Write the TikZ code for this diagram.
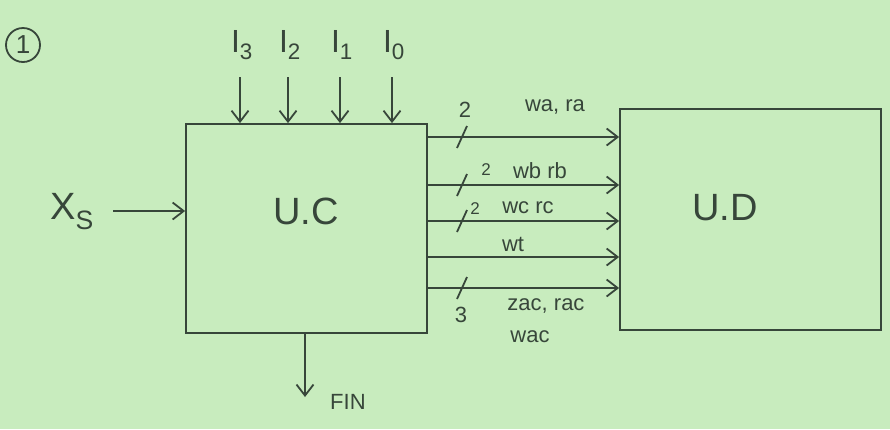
\documentclass[tikz,border=0pt]{standalone}
\usepackage{fontspec}
\setmainfont{Liberation Sans}
\usetikzlibrary{arrows.meta,calc}
\definecolor{paper}{RGB}{200,236,190}
\definecolor{ink}{RGB}{55,70,58}
\begin{document}
\begin{tikzpicture}[x=1pt,y=-1pt,
  ink/.style={draw=ink,line width=1.8pt},
  arr/.style={ink,-{Straight Barb[length=11pt,width=17pt]}},
  box/.style={ink,rectangle,inner sep=0pt},
  lab/.style={text=ink,inner sep=0pt,font=\fontsize{32}{34}\selectfont},
  small/.style={text=ink,inner sep=0pt,font=\fontsize{22}{24}\selectfont},
  big/.style={text=ink,inner sep=0pt,font=\fontsize{38}{40}\selectfont}]
\fill[paper] (0,0) rectangle (890,429);
\useasboundingbox (0,0) rectangle (890,429);
% circled number
\node[text=ink,font=\fontsize{26}{28}\selectfont,draw=ink,line width=1.8pt,circle,minimum size=34pt,inner sep=0pt] (num) at (23,45) {1};
% boxes
\node[box,minimum width=241pt,minimum height=209pt] (uc) at (306.5,228.5) {};
\node[box,minimum width=261pt,minimum height=221pt] (ud) at (750.5,219.5) {};
\node[big] (uct) at (306,211) {U.C};
\node[big] (udt) at (725,208) {U.D};
% inputs
\node[lab] (i3) at (242,45) {I\textsubscript{3}};
\node[lab] (i2) at (290,45) {I\textsubscript{2}};
\node[lab] (i1) at (342,45) {I\textsubscript{1}};
\node[lab] (i0) at (394,45) {I\textsubscript{0}};
\foreach \n/\x in {i3/240,i2/288,i1/340,i0/392}{
  \coordinate (\n s) at (\x,77);
  \draw[arr] (\n s) -- (\n s |- uc.north);
}
% Xs
\node[big] (xs) at (72,212) {X\textsubscript{S}};
\coordinate (xse) at (113,211);
\draw[arr] (xse) -- (xse -| uc.west);
% FIN
\coordinate (fin0) at (305,333);
\coordinate (fin1) at (305,397);
\draw[arr] (uc.south -| fin0) -- (fin1);
\node[small,anchor=west] (fin) at (330,402) {FIN};
% buses
\foreach \n/\y in {a/137,b/185,c/221,t/257,z/288}{
  \coordinate (b\n) at (427,\y);
  \draw[arr] (b\n) -- (b\n -| ud.west);
}
% bus width slashes
\foreach \n in {a,b,c,z}{
  \draw[ink] ($(b\n)+(30,11)$) -- ($(b\n)+(40,-11)$);
}
\node[small] (na) at (465,110) {2};
\node[small] (la) at (555,107) {wa, ra};
\node[small,font=\fontsize{17}{19}\selectfont] (nb) at (486,170) {2};
\node[small] (lb) at (540,171) {wb rb};
\node[small,font=\fontsize{17}{19}\selectfont] (nc) at (475,209) {2};
\node[small] (lc) at (528,208) {wc rc};
\node[small] (lt) at (513,244) {wt};
\node[small] (nz) at (461,315) {3};
\node[small] (lz) at (546,306) {zac, rac};
\node[small] (lw) at (530,337) {wac};
\end{tikzpicture}
\end{document}
